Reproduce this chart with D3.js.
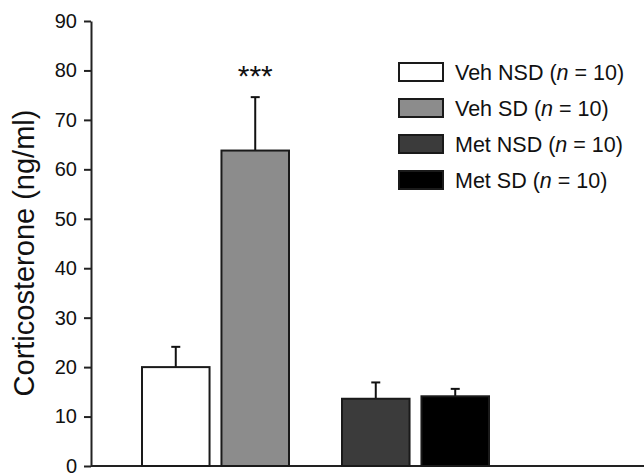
<!DOCTYPE html>
<html>
<head>
<meta charset="utf-8">
<script src="https://cdn.jsdelivr.net/npm/d3@7"></script>
<style>
  body { margin: 0; background: #fff; }
  svg { display: block; font-family: 'Liberation Sans', Arial, Helvetica, sans-serif; }
</style>
</head>
<body>
<svg id="chart"></svg>
<script>
'use strict';
const GROUPS = ['Veh', 'Met'];
const CONDITIONS = ['NSD', 'SD'];
const LABELS = ['Veh NSD', 'Veh SD', 'Met NSD', 'Met SD'];
const MEANS = [20.0, 63.8, 13.6, 14.1];
const SEMS = [4.1, 10.8, 3.3, 1.5];
const N_SIZES = [10, 10, 10, 10];
const SIGNIF = ['', '***', '', ''];
const Y_TICKS = [0, 10, 20, 30, 40, 50, 60, 70, 80, 90];
const FILLS = ['#ffffff', '#8c8c8c', '#3b3b3b', '#000000'];

const data = LABELS.map((label, i) => ({
  label,
  group: GROUPS[Math.floor(i / 2)],
  cond: CONDITIONS[i % 2],
  mean: MEANS[i],
  sem: SEMS[i],
  n: N_SIZES[i],
  sig: SIGNIF[i],
  fill: FILLS[i],
}));

const width = 644,
  height = 473;
const margin = { top: 21, right: 0, bottom: 7, left: 91 };

const svg = d3.select('#chart').attr('width', width).attr('height', height);

let y = d3
  .scaleLinear()
  .domain([0, 90])
  .range([height - margin.bottom, margin.top]);

// two groups, two bars each
let x0 = d3
  .scaleBand()
  .domain(GROUPS)
  .range([margin.left + 24.5, margin.left + 424.5])
  .paddingInner(0.265)
  .paddingOuter(0.1325);

let x1 = d3
  .scaleBand()
  .domain(CONDITIONS)
  .range([0, x0.bandwidth()])
  .paddingInner(0.15);

// Y-Axis
svg
  .append('g')
  .attr('transform', `translate(${margin.left},0)`)
  .call(d3.axisLeft(y).tickValues(Y_TICKS).tickSize(7).tickSizeOuter(0).tickPadding(7))
  .call((g) => g.select('.domain').attr('stroke', '#222').attr('stroke-width', 2))
  .call((g) => g.selectAll('.tick line').attr('stroke', '#222').attr('stroke-width', 2))
  .call((g) =>
    g
      .selectAll('.tick text')
      .attr('fill', '#111')
      .attr('font-family', null)
      .style('font-size', '20px')
  );

// X-Axis baseline
svg
  .append('line')
  .attr('x1', margin.left)
  .attr('x2', width)
  .attr('y1', y(0))
  .attr('y2', y(0))
  .attr('stroke', '#222')
  .attr('stroke-width', 2);

// y label
svg
  .append('text')
  .attr('transform', 'rotate(-90)')
  .attr('x', -253)
  .attr('y', 34)
  .attr('text-anchor', 'middle')
  .attr('font-size', 29)
  .attr('fill', '#111')
  .text('Corticosterone (ng/ml)');

const barX = (d) => x0(d.group) + x1(d.cond);

// error bars (upper only)
let err = svg.append('g').attr('stroke', '#111').attr('stroke-width', 2);
err
  .selectAll('line.stem')
  .data(data)
  .enter()
  .append('line')
  .attr('x1', (d) => barX(d) + x1.bandwidth() / 2)
  .attr('x2', (d) => barX(d) + x1.bandwidth() / 2)
  .attr('y1', (d) => y(d.mean))
  .attr('y2', (d) => y(d.mean + d.sem));
err
  .selectAll('line.cap')
  .data(data)
  .enter()
  .append('line')
  .attr('x1', (d) => barX(d) + x1.bandwidth() / 2 - 4.5)
  .attr('x2', (d) => barX(d) + x1.bandwidth() / 2 + 4.5)
  .attr('y1', (d) => y(d.mean + d.sem))
  .attr('y2', (d) => y(d.mean + d.sem));

// bars
svg
  .append('g')
  .selectAll('rect')
  .data(data)
  .enter()
  .append('rect')
  .attr('x', (d) => barX(d))
  .attr('y', (d) => y(d.mean))
  .attr('width', x1.bandwidth())
  .attr('height', (d) => y(0) - y(d.mean))
  .attr('fill', (d) => d.fill)
  .attr('stroke', '#1a1a1a')
  .attr('stroke-width', 2);

// significance stars
svg
  .append('g')
  .selectAll('text')
  .data(data.filter((d) => d.sig))
  .enter()
  .append('text')
  .attr('x', (d) => barX(d) + x1.bandwidth() / 2)
  .attr('y', (d) => y(d.mean + d.sem) - 11)
  .attr('text-anchor', 'middle')
  .attr('font-size', 30)
  .attr('fill', '#111')
  .text((d) => d.sig);

// legend
let legend = svg
  .append('g')
  .selectAll('g')
  .data(data)
  .enter()
  .append('g')
  .attr('transform', (d, i) => `translate(399,${72 + i * 36})`);

legend
  .append('rect')
  .attr('x', 0)
  .attr('y', -9)
  .attr('width', 44)
  .attr('height', 18)
  .attr('fill', (d) => d.fill)
  .attr('stroke', '#1a1a1a')
  .attr('stroke-width', 2);

let lt = legend
  .append('text')
  .attr('x', 56)
  .attr('y', 0)
  .attr('dy', '0.35em')
  .attr('font-size', 21.5)
  .attr('fill', '#111');
lt.append('tspan').text((d) => `${d.label} (`);
lt.append('tspan').attr('font-style', 'italic').text('n');
lt.append('tspan').text((d) => ` = ${d.n})`);
</script>
</body>
</html>
